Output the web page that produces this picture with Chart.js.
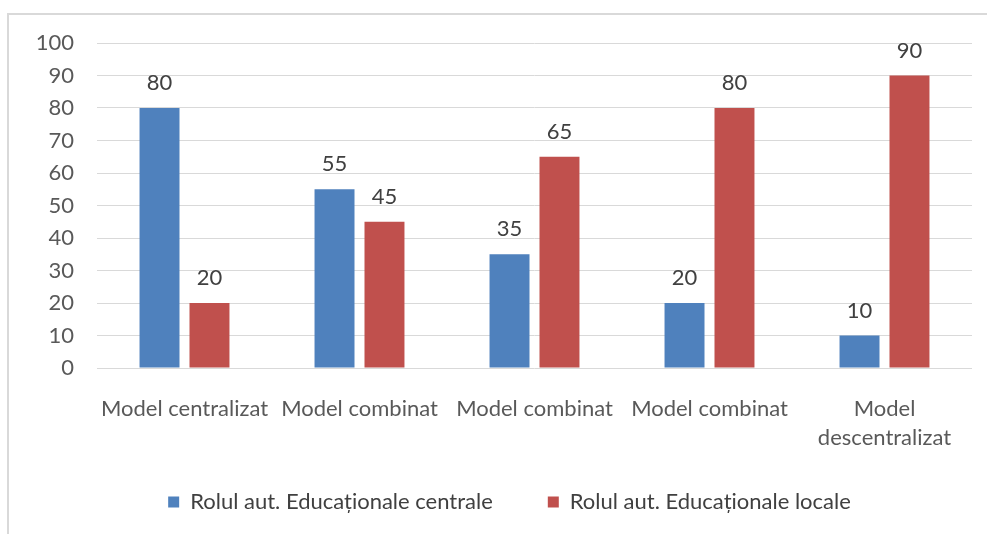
<!DOCTYPE html>
<html>
<head>
<meta charset="utf-8">
<script src="https://cdn.jsdelivr.net/npm/chart.js@4/dist/chart.umd.min.js"></script>
<style>
  html, body { margin: 0; padding: 0; background: #fff; }
  #wrap { position: relative; width: 987px; height: 534px; overflow: hidden; }
  #frame { position: absolute; left: 7px; top: 13px; width: 1000px; height: 560px; border: 2px solid #d9d9d9; box-sizing: border-box; }
  #c { position: absolute; left: 0; top: 0; }
</style>
</head>
<body>
<div id="wrap">
  <div id="frame"></div>
  <canvas id="c" width="987" height="534"></canvas>
</div>
<script>
const categories = ['Model centralizat', 'Model combinat', 'Model combinat', 'Model combinat', ['Model', 'descentralizat']];
const seriesNames = ['Rolul aut. Educaționale centrale', 'Rolul aut. Educaționale locale'];
const centralValues = [80, 55, 35, 20, 10];
const localValues = [20, 45, 65, 80, 90];
const yTicks = [0, 10, 20, 30, 40, 50, 60, 70, 80, 90, 100];

const FONT = 'Lato';
const FS = 22;

const valueLabels = {
  id: 'valueLabels',
  afterDatasetsDraw(chart) {
    const ctx = chart.ctx;
    ctx.save();
    ctx.font = FS + 'px ' + FONT;
    ctx.fillStyle = '#404040';
    ctx.textAlign = 'center';
    ctx.textBaseline = 'middle';
    chart.data.datasets.forEach((ds, i) => {
      chart.getDatasetMeta(i).data.forEach((el, j) => {
        ctx.fillText(String(ds.data[j]), el.x, el.y - 25);
      });
    });
    ctx.restore();
  }
};

function noLabelClip(scale) { scale._computeLabelArea = () => undefined; }

new Chart(document.getElementById('c'), {
  type: 'bar',
  data: {
    labels: categories,
    datasets: [
      { label: seriesNames[0], data: centralValues, backgroundColor: '#4F81BD', borderWidth: 0 },
      { label: seriesNames[1], data: localValues, backgroundColor: '#C0504D', borderWidth: 0 }
    ]
  },
  options: {
    responsive: false,
    animation: false,
    devicePixelRatio: 1,
    layout: { padding: { left: 47, right: 15, top: 43, bottom: 11 } },
    datasets: { bar: { categoryPercentage: 0.571, barPercentage: 0.8 } },
    plugins: {
      tooltip: { enabled: false },
      legend: {
        position: 'bottom',
        labels: {
          boxWidth: 11, boxHeight: 11, padding: 55,
          color: '#404040',
          font: { family: FONT, size: FS }
        }
      }
    },
    scales: {
      x: {
        grid: { display: false, drawTicks: false },
        border: { display: false },
        ticks: { color: '#595959', padding: 26, maxRotation: 0, autoSkip: false, font: { family: FONT, size: FS, lineHeight: 1.32 } },
        afterFit(scale) { scale.height = 68; noLabelClip(scale); }
      },
      y: {
        min: 0, max: 100,
        grid: { color: '#d9d9d9', lineWidth: 1, drawTicks: false },
        border: { display: false },
        afterBuildTicks(scale) { scale.ticks = yTicks.map(v => ({ value: v })); },
        ticks: { color: '#595959', padding: 23, font: { family: FONT, size: FS } },
        afterFit(scale) { scale.width = 50; noLabelClip(scale); }
      }
    }
  },
  plugins: [valueLabels]
});
</script>
</body>
</html>
